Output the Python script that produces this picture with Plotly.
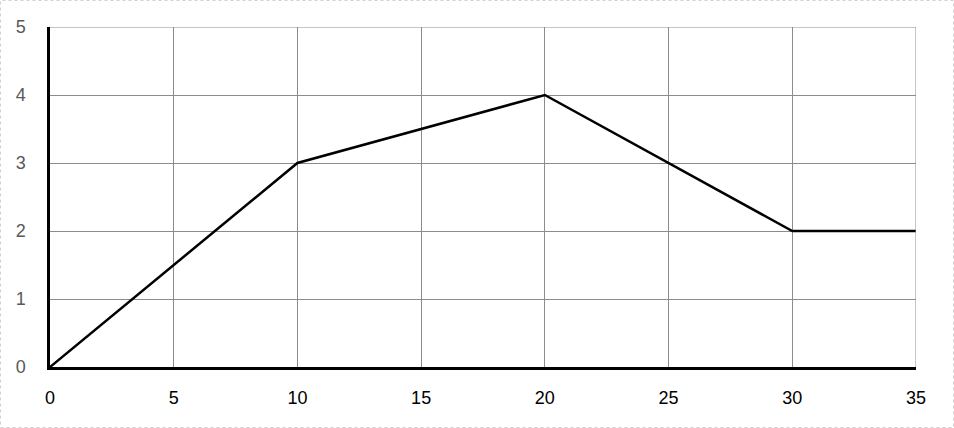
import plotly.graph_objects as go

x_vals = [0, 10, 20, 30, 35]
y_vals = [0, 3, 4, 2, 2]
x_ticks = [0, 5, 10, 15, 20, 25, 30, 35]
y_ticks = [0, 1, 2, 3, 4, 5]

W, H = 954, 428
L, R, T, B = 50, 38, 27, 61
pw, ph = W - L - R, H - T - B

fig = go.Figure()
fig.add_trace(go.Scatter(x=x_vals, y=y_vals, mode="lines",
                         line=dict(color="black", width=2.5), showlegend=False,
                         hoverinfo="skip"))

fig.update_layout(
    width=W, height=H,
    margin=dict(l=L, r=R, t=T, b=B, pad=0),
    paper_bgcolor="white", plot_bgcolor="white",
    font=dict(family="Liberation Sans, Arial, sans-serif", size=18),
    xaxis=dict(range=[0, 35], tickvals=x_ticks, ticks="", showgrid=True,
               gridcolor="#8c8c8c", gridwidth=1, showline=True, linecolor="black",
               linewidth=2.5, mirror=False, zeroline=False,
               tickfont=dict(color="black", size=18), ticklabelstandoff=13),
    yaxis=dict(range=[0, 5], tickvals=y_ticks, ticks="", showgrid=True,
               gridcolor="#8c8c8c", gridwidth=1, showline=True, linecolor="black",
               linewidth=2.5, zeroline=False,
               tickfont=dict(color="#595959", size=18), ticklabelstandoff=18),
    shapes=[
        dict(type="line", xref="x", yref="paper", x0=35, x1=35, y0=0, y1=1,
             line=dict(color="#8c8c8c", width=1)),
        dict(type="line", xref="paper", yref="y", x0=0, x1=1, y0=5, y1=5,
             line=dict(color="#8c8c8c", width=1)),
        dict(type="rect", xref="paper", yref="paper",
             x0=(0.5 - L) / pw, x1=(W - 0.5 - L) / pw,
             y0=-(B - 0.5) / ph, y1=1 + (T - 0.5) / ph,
             line=dict(color="#d0d0d0", width=1, dash="dot"), layer="below"),
    ],
)

fig.write_html("out.html", config={"displayModeBar": False},
               post_script="document.body.style.margin='0';")
